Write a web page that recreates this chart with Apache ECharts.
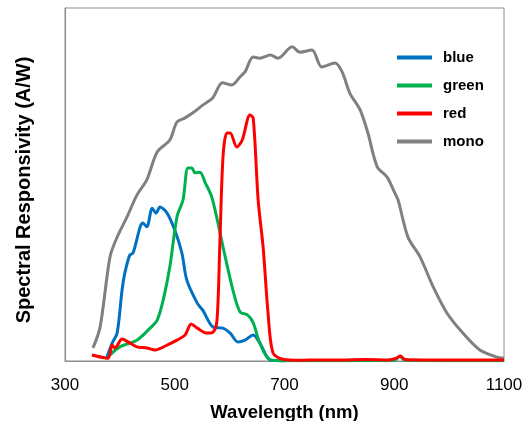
<!DOCTYPE html>
<html>
<head>
<meta charset="utf-8">
<script src="https://cdn.jsdelivr.net/npm/echarts@6/dist/echarts.min.js"></script>
<style>
  html, body { margin: 0; padding: 0; background: #fff; }
  #chart { width: 532px; height: 421px; }
</style>
</head>
<body>
<div id="chart"></div>
<script>
// wavelength (nm) and relative responsivity
const monoNm  = [351, 364, 382, 395, 413, 431, 449, 468, 491, 504, 518, 533, 551, 569, 587, 604, 619, 628, 643, 655, 674, 688, 714, 728, 750, 768, 792, 805, 819, 838, 852, 869, 887, 901, 907, 925, 947, 971, 996, 1025, 1056, 1087, 1100];
const monoVal = [3.7, 9.6, 29.5, 35.1, 40.8, 47, 51.3, 59.2, 62.6, 67.7, 68.8, 70.3, 72.5, 74.5, 78.8, 78.2, 80.5, 81.9, 86.1, 85.8, 86.7, 85.8, 89.0, 87.5, 88.1, 83.3, 84.4, 81.9, 75.9, 71.1, 64.6, 55.0, 52.1, 47.6, 45.6, 35.1, 29.5, 21.0, 13.6, 7.9, 3.1, 1.1, 0.8];

const blueNm  = [375, 386, 395, 404, 409, 418, 424, 437, 442, 449, 459, 466, 473, 486, 500, 513, 522, 541, 551, 570, 588, 601, 615, 628, 643, 655, 674, 700];
const blueVal = [0.5, 5.1, 7.9, 20.1, 24.9, 30.0, 30.6, 38.0, 39.1, 38.0, 43.3, 41.9, 43.6, 41.9, 37.1, 30.6, 22.9, 16.4, 14.4, 9.6, 9.3, 7.9, 5.4, 5.9, 7.4, 5.1, 0.3, 0];

const greenNm  = [382, 400, 431, 455, 468, 479, 491, 504, 515, 524, 531, 537, 546, 555, 568, 588, 606, 619, 633, 643, 655, 674, 700, 800, 900, 910, 920, 1000, 1100];
const greenVal = [1.7, 4.0, 5.9, 9.3, 11.6, 17.3, 26.6, 40.8, 45.6, 54.7, 54.7, 53.3, 53.5, 50.7, 46.2, 32.3, 20.1, 13.9, 13.0, 10.8, 5.1, 0.3, 0.1, 0.1, 0.2, 1.3, 0.2, 0.1, 0.1];

const redNm  = [349, 378, 386, 391, 404, 415, 431, 449, 464, 486, 504, 519, 530, 541, 559, 570, 577, 582, 588, 595, 601, 613, 623, 637, 643, 652, 661, 670, 679, 697, 728, 760, 800, 850, 890, 904, 911, 920, 950, 1000, 1050, 1100];
const redVal = [1.7, 0.8, 4.5, 3.7, 6.2, 5.4, 4.0, 3.7, 3.1, 4.5, 5.9, 7.4, 10.5, 9.3, 7.9, 8.2, 11.6, 32.3, 58, 64.6, 64.6, 60.6, 62.6, 69.7, 68.8, 45.6, 32.3, 13.6, 2.3, 0.5, 0.2, 0.3, 0.3, 0.4, 0.3, 0.8, 1.4, 0.4, 0.3, 0.3, 0.3, 0.3];

const xTicks = [300, 500, 700, 900, 1100];

function pairs(xs, ys) {
    return xs.map((x, i) => [x, ys[i]]);
}

function lineSeries(name, color, xs, ys) {
    return {
        name: name,
        type: 'line',
        smooth: 0.3,
        symbol: 'none',
        lineStyle: { color: color, width: 3 },
        itemStyle: { color: color },
        data: pairs(xs, ys)
    };
}

const font = 'Liberation Sans, Arial, sans-serif';

const option = {
    animation: false,
    textStyle: { fontFamily: font },
    grid: {
        left: 65, top: 8, right: 28, bottom: 60,
        outerBoundsMode: 'none',
        containLabel: false,
        show: true, borderColor: '#8c8c8c', borderWidth: 1
    },
    legend: {
        orient: 'vertical',
        left: 397,
        top: 50,
        padding: 0,
        icon: 'rect',
        itemWidth: 35,
        itemHeight: 4,
        itemGap: 13,
        data: ['blue', 'green', 'red', 'mono'],
        textStyle: { fontFamily: font, fontSize: 15, fontWeight: 'bold', color: '#000', padding: [0, 0, 0, 6] }
    },
    xAxis: {
        type: 'value',
        min: 300, max: 1100, interval: 200,
        name: 'Wavelength (nm)',
        nameLocation: 'middle',
        nameGap: 42,
        nameTextStyle: { fontFamily: font, fontSize: 18.5, fontWeight: 'bold', color: '#000' },
        axisLine: { show: true, lineStyle: { color: '#8c8c8c' } },
        axisTick: { show: false },
        splitLine: { show: false },
        axisLabel: {
            fontFamily: font, fontSize: 17, color: '#000', margin: 16,
            formatter: v => xTicks.includes(v) ? String(v) : ''
        }
    },
    yAxis: {
        type: 'value',
        min: 0, max: 100,
        name: 'Spectral Responsivity (A/W)',
        nameLocation: 'middle',
        nameGap: 31,
        nameTextStyle: { fontFamily: font, fontSize: 20, fontWeight: 'bold', color: '#000', padding: [0, 11, 0, 0] },
        axisLine: { show: true, lineStyle: { color: '#8c8c8c' } },
        axisTick: { show: false },
        axisLabel: { show: false },
        splitLine: { show: false }
    },
    series: [
        lineSeries('mono', '#808080', monoNm, monoVal),
        lineSeries('blue', '#0070C0', blueNm, blueVal),
        lineSeries('green', '#00B050', greenNm, greenVal),
        lineSeries('red', '#FF0000', redNm, redVal)
    ]
};

const chart = echarts.init(document.getElementById('chart'));
chart.setOption(option);
</script>
</body>
</html>
